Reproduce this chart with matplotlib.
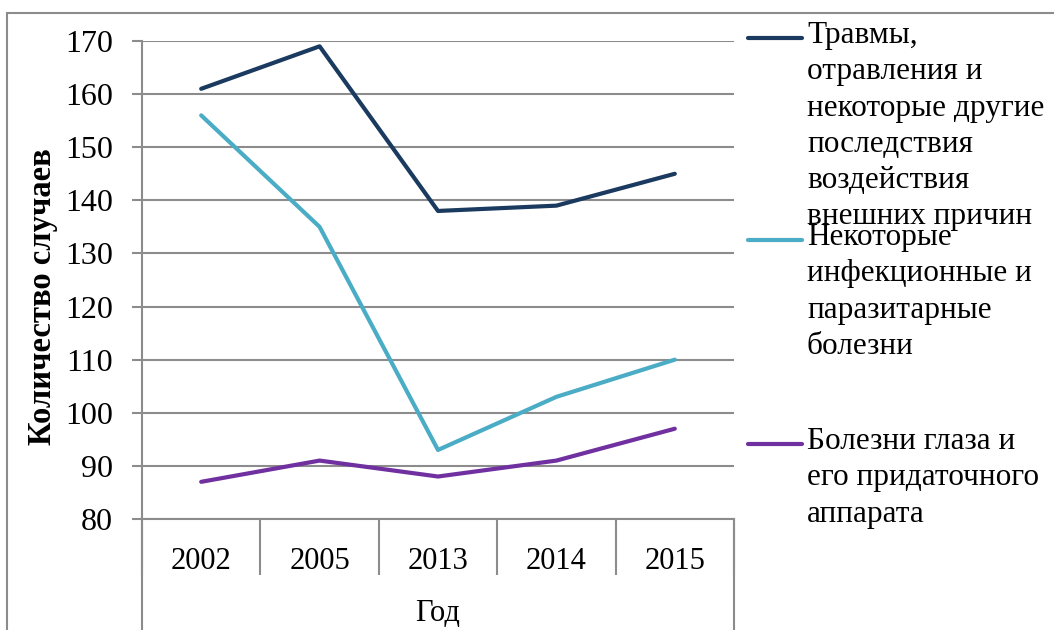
import matplotlib.pyplot as plt
from matplotlib.lines import Line2D
from matplotlib.patches import Rectangle

years = ['2002', '2005', '2013', '2014', '2015']
injuries = [161, 169, 138, 139, 145]
infections = [156, 135, 93, 103, 110]
eye = [87, 91, 88, 91, 97]

labels = ['Травмы,\nотравления и\nнекоторые другие\nпоследствия\nвоздействия\nвнешних причин',
          'Некоторые\nинфекционные и\nпаразитарные\nболезни',
          'Болезни глаза и\nего придаточного\nаппарата']
colors = ['#1B3A5F', '#4BACC6', '#7030A0']

plt.rcParams['font.family'] = ['Liberation Serif', 'DejaVu Serif']
grey = '#8C8C8C'

fig = plt.figure(figsize=(10.54, 6.3), dpi=100)
# chart area border
fig.patches.append(Rectangle((7/1054, -0.1), 1.2, 1 - 13/630 + 0.1, transform=fig.transFigure,
                             fill=False, edgecolor=grey, lw=1.5))

ax = fig.add_axes([142/1054, 1 - 519/630, 592/1054, 478/630])
x = list(range(len(years)))
for vals, c in zip([injuries, infections, eye], colors):
    ax.plot(x, vals, color=c, lw=3, solid_capstyle='round')

ax.set_xlim(-0.5, len(years) - 0.5)
ax.set_ylim(80, 170)
ax.set_yticks(range(80, 171, 10))
ax.yaxis.grid(True, color=grey, lw=1.5)
ax.set_axisbelow(True)
for s in ['top', 'right']:
    ax.spines[s].set_visible(False)
for s in ['left', 'bottom']:
    ax.spines[s].set_color(grey)
    ax.spines[s].set_linewidth(1.5)

ax.tick_params(axis='y', length=7, width=1.5, color=grey, labelsize=23, pad=14)
ax.set_xticks(x)
ax.set_xticklabels(years)
ax.tick_params(axis='x', which='major', length=0, labelsize=22, pad=20)
ax.set_xticks([i - 0.5 for i in range(len(years) + 1)], minor=True)
ax.tick_params(axis='x', which='minor', length=40, width=1.5, color=grey)

# outer category-axis lines going down to the bottom
for xx in [0, 1]:
    ax.plot([xx, xx], [0, -0.3], transform=ax.transAxes, color=grey, lw=1.5, clip_on=False)

ax.set_xlabel('Год', fontsize=22, labelpad=14)
ax.set_ylabel('Количество случаев', fontsize=23.5, fontweight='bold')
ax.yaxis.set_label_coords(-0.142, 0.465)

# legend drawn manually to copy the overlapping layout
leg_y = [38, 240, 444]
for lab, c, yy in zip(labels, colors, leg_y):
    fy = 1 - yy/630
    fig.add_artist(Line2D([748/1054, 802/1054], [fy, fy], color=c, lw=3, solid_capstyle='round'))
    fig.text(807/1054, fy + 17/630, lab, fontsize=22.5, va='top', ha='left', linespacing=1.33)

fig.savefig('out.png', dpi=100)
